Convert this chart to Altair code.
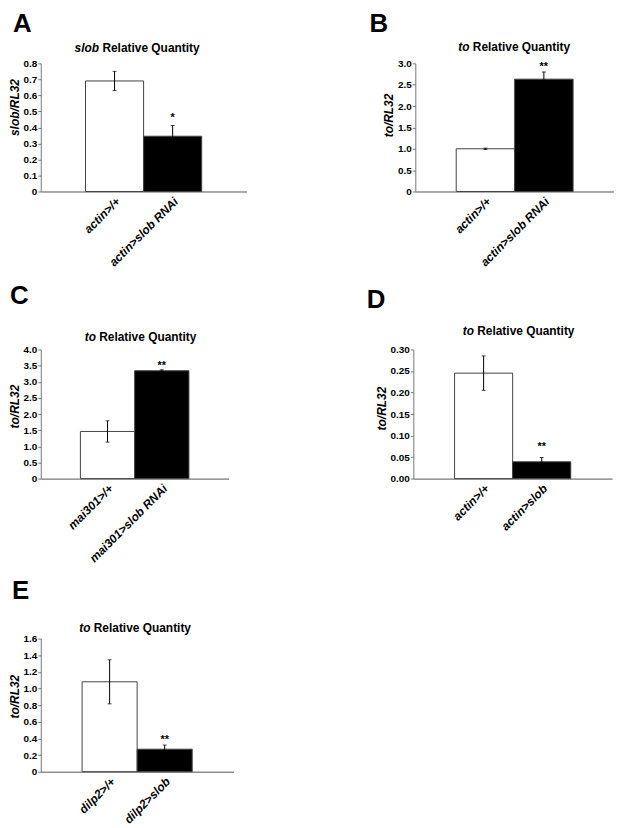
import altair as alt
import pandas as pd

FONT = "Liberation Sans"

# ---------------- data ----------------
letters = ["A", "B", "C", "D", "E"]
genes = ["slob", "to", "to", "to", "to"]
title_rest = "Relative Quantity"
y_titles = ["slob/RL32", "to/RL32", "to/RL32", "to/RL32", "to/RL32"]
categories = [
    ["actin>/+", "actin>slob RNAi"],
    ["actin>/+", "actin>slob RNAi"],
    ["mai301>/+", "mai301>slob RNAi"],
    ["actin>/+", "actin>slob"],
    ["dilp2>/+", "dilp2>slob"],
]
groups = ["control", "experimental"]
means = [
    [0.69, 0.345],
    [1.00, 2.63],
    [1.46, 3.34],
    [0.245, 0.039],
    [1.08, 0.27],
]
errors = [
    [0.06, 0.067],
    [0.015, 0.17],
    [0.33, 0.03],
    [0.04, 0.01],
    [0.265, 0.05],
]
stars = [["", "*"], ["", "**"], ["", "**"], ["", "**"], ["", "**"]]
y_ticks = [
    [0, 0.1, 0.2, 0.3, 0.4, 0.5, 0.6, 0.7, 0.8],
    [0, 0.5, 1.0, 1.5, 2.0, 2.5, 3.0],
    [0, 0.5, 1.0, 1.5, 2.0, 2.5, 3.0, 3.5, 4.0],
    [0, 0.05, 0.10, 0.15, 0.20, 0.25, 0.30],
    [0, 0.2, 0.4, 0.6, 0.8, 1.0, 1.2, 1.4, 1.6],
]
label_fmt = [
    "datum.value == 0 ? '0' : format(datum.value, '.1f')",
    "datum.value == 0 ? '0' : format(datum.value, '.1f')",
    "datum.value == 0 ? '0' : format(datum.value, '.1f')",
    "format(datum.value, '.2f')",
    "datum.value == 0 ? '0' : format(datum.value, '.1f')",
]

# ---------------- layout (pixels) ----------------
widths = [207, 200, 189, 200, 194]
heights = [129, 129, 130, 130, 134]
pad_outer = [0.77, 0.70, 0.73, 0.71, 0.75]
letter_pos = [(-28, -53), (-46, -53), (-31, -67), (-47, -63), (-29, -61)]
title_split = [(58.7, 62.0), (54.6, 57.9), (55.5, 58.8), (61.0, 64.3), (50.0, 53.3)]
title_dy = [-15, -16, -13, -19, -11]
axis_title_y = [44, 52, 57, 59, 58]
star_dy = [-4.8, -1.8, -0.8, -7.8, -1.8]


def panel(i):
    cats = categories[i]
    df = pd.DataFrame({
        "cat": cats,
        "mean": means[i],
        "lo": [m - e for m, e in zip(means[i], errors[i])],
        "hi": [m + e for m, e in zip(means[i], errors[i])],
        "group": groups,
        "star": stars[i],
    })
    xscale = alt.Scale(paddingInner=0, paddingOuter=pad_outer[i])
    xaxis = alt.Axis(
        title=None, labelAngle=-45, labelFont=FONT, labelFontSize=12,
        labelFontWeight="bold", labelFontStyle="italic", labelColor="black",
        ticks=False, labelPadding=4, domainColor="#555", labelOverlap=False,
    )
    x = alt.X("cat:N", sort=cats, scale=xscale, axis=xaxis)
    yscale = alt.Scale(domain=[0, y_ticks[i][-1]], nice=False)
    yaxis = alt.Axis(
        values=y_ticks[i], labelExpr=label_fmt[i], grid=False,
        labelOverlap=False, labelFlush=False, labelBound=False,
        labelFont=FONT, labelFontSize=10, labelFontWeight="bold", labelColor="black",
        labelPadding=1, tickSize=3, tickColor="#777", domainColor="#777",
        title=y_titles[i], titleFont=FONT, titleFontSize=12, titleFontWeight="bold",
        titleFontStyle="italic", titleColor="black", titlePadding=2,
        titleY=axis_title_y[i],
    )

    def Y(field):
        return alt.Y(field, scale=yscale, axis=yaxis, title=y_titles[i])

    base = alt.Chart(df)
    bars = base.mark_bar(stroke="#444", strokeWidth=1).encode(
        x=x,
        y=Y("mean:Q"),
        fill=alt.Fill("group:N", scale=alt.Scale(domain=groups, range=["white", "black"]), legend=None),
    )
    rules = base.mark_rule(color="black", strokeWidth=1).encode(
        x=x, y=Y("lo:Q"), y2="hi:Q"
    )
    cap_hi = base.mark_tick(color="black", size=4, thickness=1).encode(x=x, y=Y("hi:Q"))
    cap_lo = base.mark_tick(color="black", size=4, thickness=1).encode(x=x, y=Y("lo:Q"))
    star = base.mark_text(
        font=FONT, fontSize=11, fontWeight="bold", baseline="alphabetic",
        dy=star_dy[i], color="black",
    ).encode(x=x, y=Y("hi:Q"), text="star:N")

    ann = alt.Chart(pd.DataFrame({
        "letter": [letters[i]], "gene": [genes[i]], "rest": [title_rest]
    }))
    lx, ly = letter_pos[i]
    letter = ann.mark_text(
        font=FONT, fontSize=26, fontWeight="bold", align="left", baseline="top", color="black"
    ).encode(x=alt.value(lx), y=alt.value(ly), text="letter:N")
    sx1, sx2 = title_split[i]
    gene_t = ann.mark_text(
        font=FONT, fontSize=12, fontWeight="bold", fontStyle="italic",
        align="right", baseline="middle", color="black"
    ).encode(x=alt.value(sx1), y=alt.value(title_dy[i]), text="gene:N")
    rest_t = ann.mark_text(
        font=FONT, fontSize=12, fontWeight="bold",
        align="left", baseline="middle", color="black"
    ).encode(x=alt.value(sx2), y=alt.value(title_dy[i]), text="rest:N")

    return alt.layer(bars, rules, cap_hi, cap_lo, star, letter, gene_t, rest_t).properties(
        width=widths[i], height=heights[i]
    )


row1 = alt.hconcat(panel(0), panel(1), spacing=124)
row2 = alt.hconcat(panel(2), panel(3), spacing=139)
row3 = panel(4)

top = alt.vconcat(row1, row2, spacing=14)
chart = alt.vconcat(top, row3, spacing=13).properties(padding=0).configure(
    font=FONT
).configure_view(stroke=None)

chart.save("out.html", embed_options={"renderer": "svg", "actions": False})
